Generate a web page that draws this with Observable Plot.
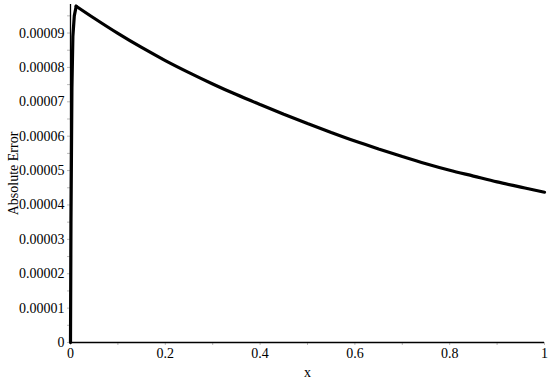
<!DOCTYPE html>
<html>
<head>
<meta charset="utf-8">
<script src="https://cdn.jsdelivr.net/npm/d3@7"></script>
<script src="https://cdn.jsdelivr.net/npm/@observablehq/plot@0.6"></script>
<style>
  html, body { margin: 0; padding: 0; background: #fff; }
  #chart svg { display: block; }
  #chart svg text, #chart svg g { font-family: "Liberation Serif", "Times New Roman", serif !important; font-variant: normal !important; }
</style>
</head>
<body>
<div id="chart"></div>
<script>
const xValues = [0, 0.001, 0.003, 0.005, 0.008, 0.012, 0.05, 0.1, 0.15, 0.2, 0.25, 0.3, 0.35, 0.4, 0.45, 0.5, 0.55, 0.6, 0.65, 0.7, 0.75, 0.8, 0.85, 0.9, 0.95, 1.0];
const errValues = [0, 3.5e-5, 7.4e-5, 8.9e-5, 9.5e-5, 9.78e-5, 9.43e-5, 8.99e-5, 8.58e-5, 8.20e-5, 7.85e-5, 7.52e-5, 7.21e-5, 6.92e-5, 6.64e-5, 6.37e-5, 6.11e-5, 5.86e-5, 5.63e-5, 5.41e-5, 5.20e-5, 5.01e-5, 4.84e-5, 4.67e-5, 4.52e-5, 4.37e-5];
const xTicks = [0, 0.2, 0.4, 0.6, 0.8, 1];
const xMinorTicks = [0.1, 0.3, 0.5, 0.7, 0.9];
const yTicks = [0, 0.00001, 0.00002, 0.00003, 0.00004, 0.00005, 0.00006, 0.00007, 0.00008, 0.00009];
const yMinorTicks = [0.000005, 0.000015, 0.000025, 0.000035, 0.000045, 0.000055, 0.000065, 0.000075, 0.000085, 0.000095];
const xLabel = "x";
const yLabel = "Absolute Error";

const peakIndex = 5;
const data = xValues.map((x, i) => ({x, y: errValues[i]}));
const rise = data.slice(0, peakIndex + 1);
const decay = data.slice(peakIndex);
const font = "Liberation Serif";

const chart = Plot.plot({
  width: 550,
  height: 381,
  marginLeft: 70,
  marginRight: 6,
  marginTop: 4,
  marginBottom: 39,
  style: {fontFamily: font, fontSize: "13.5px", color: "#000", background: "#fff"},
  x: {domain: [0, 1]},
  y: {domain: [0, 0.0000983]},
  marks: [
    Plot.axisX({ticks: xMinorTicks, tickSize: 3, stroke: "#bbb", text: null, label: null}),
    Plot.axisY({ticks: yMinorTicks, tickSize: 3, stroke: "#bbb", text: null, label: null}),
    Plot.axisX({ticks: xTicks, tickSize: 3, stroke: "#bbb", tickPadding: 3,
      tickFormat: d => String(d), fontSize: 14, fontFamily: font, fontVariant: "normal", fill: "#000",
      label: xLabel, labelAnchor: "center", labelArrow: "none", labelOffset: 34}),
    Plot.axisY({ticks: yTicks, tickSize: 3, stroke: "#bbb", tickPadding: 3,
      tickFormat: d => d === 0 ? "0" : d.toFixed(5), fontSize: 14, fontFamily: font, fontVariant: "normal", fill: "#000",
      label: yLabel, labelAnchor: "center", labelArrow: "none", labelOffset: 62}),
    Plot.ruleY([0], {stroke: "#000", strokeWidth: 1.3}),
    Plot.ruleX([0], {stroke: "#000", strokeWidth: 1.3}),
    Plot.line(rise, {x: "x", y: "y", stroke: "#000", strokeWidth: 3.2, curve: "linear", strokeLinejoin: "miter"}),
    Plot.line(decay, {x: "x", y: "y", stroke: "#000", strokeWidth: 3.2, curve: "monotone-x", strokeLinejoin: "miter"})
  ]
});
document.getElementById("chart").appendChild(chart);
</script>
</body>
</html>
